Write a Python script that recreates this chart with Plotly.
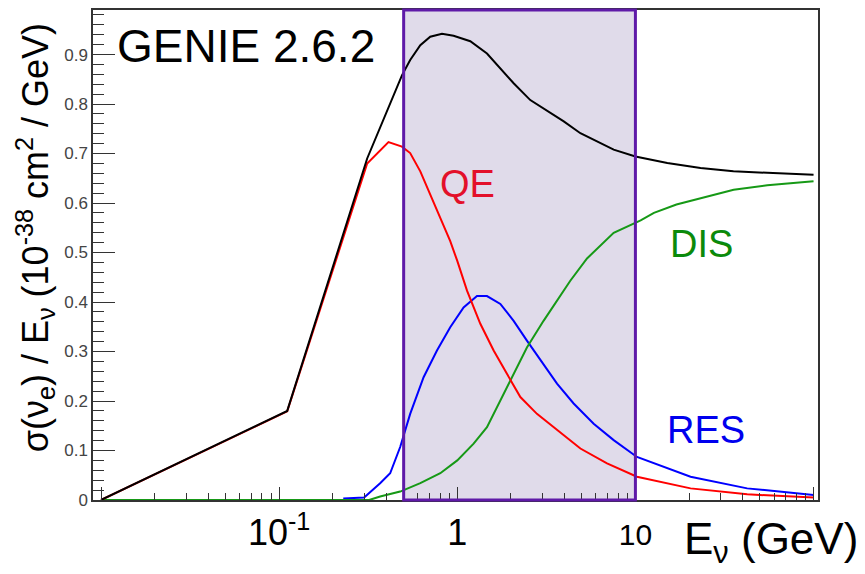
import plotly.graph_objects as go

# Neutrino energy (GeV) and cross section per energy (1e-38 cm^2 / GeV)
e_total = [0.01, 0.111, 0.312, 0.489, 0.544, 0.620, 0.705, 0.821, 0.953, 1.183, 1.468,
           1.745, 2.072, 2.57, 3.19, 3.96, 4.91, 6.09, 7.55, 10.0, 15.1, 23.2, 35.5, 55.0, 100.0]
xs_total = [0.0, 0.180, 0.690, 0.858, 0.889, 0.919, 0.936, 0.942, 0.938, 0.927, 0.902,
            0.872, 0.842, 0.808, 0.786, 0.765, 0.741, 0.724, 0.708, 0.694, 0.681, 0.671,
            0.664, 0.661, 0.657]

e_qe = [0.01, 0.111, 0.312, 0.411, 0.489, 0.544, 0.620, 0.705, 0.803, 0.913, 1.0, 1.134,
        1.347, 1.60, 1.90, 2.26, 2.80, 3.63, 4.91, 6.93, 10.2, 20.4, 42.4, 100.0]
xs_qe = [0.0, 0.179, 0.680, 0.723, 0.714, 0.701, 0.664, 0.617, 0.570, 0.523, 0.483, 0.423,
         0.356, 0.302, 0.255, 0.208, 0.174, 0.141, 0.104, 0.074, 0.047, 0.0235, 0.0115, 0.005]

e_res = [0.229, 0.300, 0.369, 0.420, 0.478, 0.544, 0.647, 0.769, 0.913, 1.085, 1.29, 1.468,
         1.745, 2.072, 2.46, 2.93, 3.63, 4.50, 5.83, 7.55, 10.2, 20.4, 42.4, 100.0]
xs_res = [0.003, 0.005, 0.034, 0.054, 0.107, 0.174, 0.248, 0.302, 0.349, 0.389, 0.412, 0.412,
          0.396, 0.362, 0.322, 0.282, 0.235, 0.195, 0.154, 0.121, 0.087, 0.047, 0.0235, 0.010]

e_dis = [0.01, 0.32, 0.369, 0.478, 0.620, 0.803, 1.0, 1.235, 1.468, 1.745, 2.072, 2.46, 3.05,
         3.63, 4.31, 5.35, 7.55, 10.7, 12.7, 17.0, 23.2, 35.6, 55.0, 100.0]
xs_dis = [0.0, 0.0, 0.007, 0.017, 0.034, 0.054, 0.080, 0.114, 0.147, 0.201, 0.255, 0.308,
          0.362, 0.402, 0.443, 0.488, 0.540, 0.565, 0.580, 0.597, 0.610, 0.627, 0.636, 0.644]

# Highlighted energy window (GeV)
window = [0.5, 10.0]

x_major = [0.01, 0.1, 1, 10, 100]
x_major_text = ["", "10<sup>-1</sup>", "1", "<span style='font-size:30px'>10</span>", ""]
x_minor = [m * 10.0 ** k for k in range(-2, 2) for m in range(2, 10)]

FONT = "Liberation Sans, Arial, sans-serif"

fig = go.Figure()
fig.add_trace(go.Scatter(x=e_res, y=xs_res, mode="lines", line=dict(color="#0000ff", width=2)))
fig.add_trace(go.Scatter(x=e_dis, y=xs_dis, mode="lines", line=dict(color="#169916", width=2)))
fig.add_trace(go.Scatter(x=e_qe, y=xs_qe, mode="lines", line=dict(color="#ff0000", width=2)))
fig.add_trace(go.Scatter(x=e_total, y=xs_total, mode="lines", line=dict(color="#000000", width=2)))

# energy window: filled band behind the curves, outline on top
fig.add_shape(type="rect", xref="x", yref="paper", x0=window[0], x1=window[1], y0=0, y1=1,
              fillcolor="#e0dbea", line=dict(width=0), layer="below")
fig.add_shape(type="rect", xref="x", yref="paper", x0=window[0], x1=window[1], y0=0, y1=1,
              fillcolor="rgba(0,0,0,0)", line=dict(color="#5f1aa8", width=3), layer="above")

fig.update_xaxes(
    type="log", range=[-2.045, 2.025],
    tickmode="array", tickvals=x_major, ticktext=x_major_text,
    ticks="inside", ticklen=13, tickwidth=1, tickcolor="#333",
    minor=dict(tickmode="array", tickvals=x_minor, ticks="inside", ticklen=7, tickcolor="#333"),
    showline=True, linecolor="#333", linewidth=1.5, mirror=True,
    showgrid=False, zeroline=False,
    tickfont=dict(family=FONT, size=36, color="#000"),
)
fig.update_yaxes(
    range=[0, 0.99], tick0=0, dtick=0.1,
    ticks="inside", ticklen=22, tickwidth=1, tickcolor="#333",
    minor=dict(dtick=0.02, ticks="inside", ticklen=11, tickcolor="#333"),
    showline=True, linecolor="#333", linewidth=1.5, mirror=True,
    showgrid=False, zeroline=False,
    tickfont=dict(family=FONT, size=17, color="#444"),
)

annotations = [
    dict(text="GENIE 2.6.2", x=0.030, y=0.927, xanchor="left", yanchor="middle",
         font=dict(family=FONT, size=46, color="#000")),
    dict(text="QE", x=0.516, y=0.644, xanchor="center", yanchor="middle",
         font=dict(family=FONT, size=38, color="#e3102a")),
    dict(text="DIS", x=0.839, y=0.522, xanchor="center", yanchor="middle",
         font=dict(family=FONT, size=38, color="#0b8a0b")),
    dict(text="RES", x=0.846, y=0.142, xanchor="center", yanchor="middle",
         font=dict(family=FONT, size=38, color="#0000ee")),
    dict(text="E<sub>ν</sub> (GeV)", x=0.812, y=-0.085, xanchor="left", yanchor="middle",
         font=dict(family=FONT, size=44, color="#000")),
    dict(text="σ(ν<sub>e</sub>) / E<sub>ν</sub> (10<sup>-38</sup> cm<sup>2</sup> / GeV)",
         x=-0.08, y=0.976, xanchor="center", yanchor="top", textangle=-90,
         font=dict(family=FONT, size=36, color="#000")),
]
for a in annotations:
    a.update(xref="paper", yref="paper", showarrow=False)
fig.update_layout(
    annotations=annotations,
    width=865, height=574,
    margin=dict(l=93, r=47, t=8, b=74),
    paper_bgcolor="white", plot_bgcolor="white",
    showlegend=False,
)

fig.write_html("out.html")
